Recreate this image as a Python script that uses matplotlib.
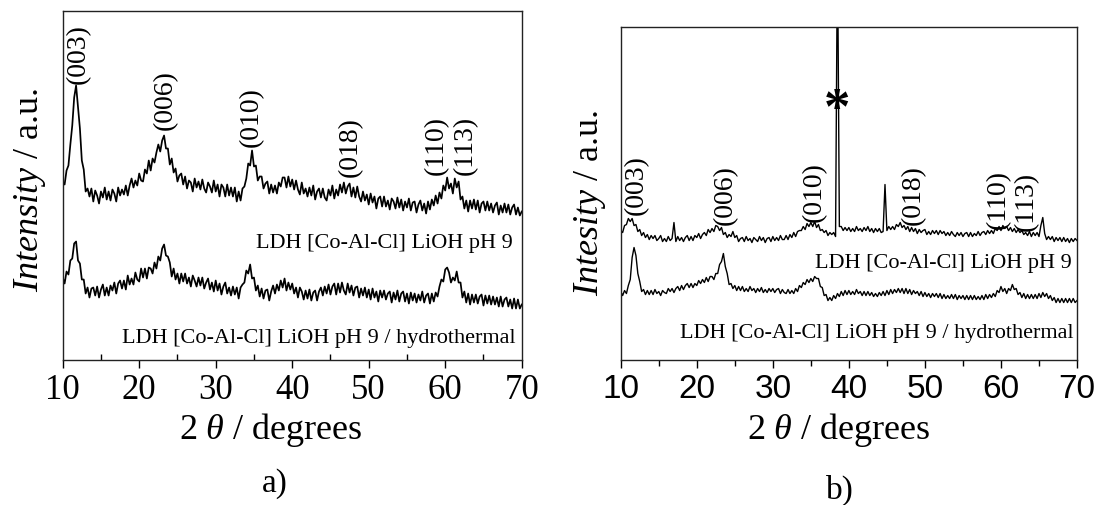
import numpy as np
import matplotlib
matplotlib.use("Agg")
import matplotlib.pyplot as plt
from matplotlib.ticker import MultipleLocator

plt.rcParams['font.family'] = ['Liberation Serif', 'DejaVu Serif']
plt.rcParams['mathtext.fontset'] = 'custom'
plt.rcParams['mathtext.rm'] = 'Liberation Serif'
plt.rcParams['mathtext.it'] = 'Liberation Serif:italic'

# 2-theta sampling (degrees), 0.25 deg step
two_theta = np.linspace(10, 70, 241)

# panel a) intensities (a.u.)
a_lioh = [
    177, 175, 189, 194, 215, 234, 262, 274,
    253, 231, 199, 190, 168, 171, 163, 171,
    158, 169, 164, 156, 168, 162, 172, 160,
    168, 159, 170, 166, 158, 172, 164, 170,
    165, 174, 164, 174, 181, 172, 179, 174,
    186, 179, 178, 190, 186, 199, 189, 201,
    197, 207, 215, 208, 219, 224, 211, 211,
    195, 201, 187, 191, 178, 184, 186, 175,
    183, 171, 179, 177, 168, 181, 172, 178,
    170, 180, 171, 167, 177, 173, 167, 179,
    168, 175, 163, 175, 172, 163, 175, 164,
    172, 163, 172, 158, 168, 159, 171, 173,
    181, 196, 194, 209, 193, 194, 179, 183,
    183, 171, 176, 178, 166, 175, 167, 174,
    166, 177, 173, 182, 182, 172, 183, 173,
    180, 170, 179, 170, 165, 177, 166, 171,
    163, 172, 164, 174, 160, 168, 171, 162,
    171, 162, 159, 170, 164, 174, 161, 170,
    164, 175, 167, 177, 166, 173, 176, 163,
    172, 162, 173, 163, 158, 168, 159, 165,
    155, 166, 157, 163, 151, 161, 163, 153,
    163, 153, 159, 150, 161, 158, 151, 162,
    152, 160, 149, 158, 152, 161, 149, 157,
    158, 147, 155, 159, 149, 156, 146, 158,
    150, 160, 154, 164, 156, 167, 161, 174,
    169, 182, 171, 176, 166, 181, 172, 178,
    160, 163, 151, 159, 148, 159, 151, 160,
    150, 159, 147, 156, 158, 149, 158, 149,
    156, 147, 154, 157, 145, 154, 147, 156,
    147, 155, 145, 152, 155, 145, 152, 144,
    148,
]
a_hydro = [
    82, 76, 88, 85, 99, 101, 116, 118,
    99, 96, 80, 80, 66, 72, 62, 71,
    72, 64, 73, 62, 70, 75, 64, 72,
    64, 74, 69, 77, 66, 76, 79, 71,
    79, 70, 84, 75, 81, 75, 87, 80,
    78, 91, 82, 91, 81, 92, 91, 86,
    97, 91, 103, 99, 111, 115, 104, 103,
    97, 83, 91, 80, 86, 76, 86, 78,
    86, 76, 82, 73, 84, 79, 73, 82,
    74, 82, 71, 77, 81, 70, 77, 68,
    79, 69, 76, 65, 73, 77, 66, 72,
    64, 73, 65, 72, 61, 72, 75, 77,
    89, 86, 95, 81, 82, 69, 74, 63,
    71, 61, 69, 70, 59, 68, 74, 66,
    75, 69, 79, 72, 81, 69, 77, 70,
    76, 66, 72, 62, 72, 68, 60, 69,
    61, 70, 59, 67, 69, 59, 68, 72,
    64, 73, 66, 75, 65, 73, 76, 65,
    76, 67, 77, 69, 65, 76, 67, 74,
    64, 72, 73, 62, 71, 64, 72, 62,
    70, 60, 71, 62, 68, 58, 69, 62,
    69, 60, 66, 68, 57, 67, 60, 69,
    58, 66, 68, 58, 66, 56, 67, 59,
    66, 57, 65, 59, 68, 57, 64, 66,
    56, 66, 58, 67, 63, 73, 80, 78,
    90, 92, 87, 77, 82, 79, 88, 77,
    77, 62, 68, 57, 66, 55, 65, 57,
    65, 56, 63, 65, 54, 64, 56, 64,
    55, 63, 55, 62, 53, 63, 53, 60,
    62, 53, 60, 51, 61, 51, 60, 51,
    55,
]

# panel b) intensities (a.u.); the 38.5 deg reflection runs off scale
b_lioh = [
    129, 127, 134, 135, 141, 138, 141, 134,
    135, 128, 130, 124, 127, 122, 125, 120,
    124, 121, 124, 119, 121, 124, 118, 121,
    118, 123, 119, 121, 137, 118, 123, 119,
    122, 118, 122, 124, 119, 123, 119, 124,
    122, 126, 121, 125, 127, 124, 130, 127,
    131, 128, 134, 133, 129, 132, 125, 127,
    122, 125, 123, 128, 122, 124, 118, 121,
    122, 118, 123, 119, 121, 117, 122, 120,
    118, 123, 119, 122, 117, 121, 122, 118,
    123, 119, 122, 119, 124, 120, 120, 124,
    120, 125, 122, 127, 123, 128, 129, 129,
    133, 130, 136, 133, 137, 133, 138, 132,
    135, 129, 130, 127, 129, 124, 127, 125,
    127, 123, 420, 133, 133, 129, 132, 129,
    132, 128, 131, 128, 133, 129, 131, 128,
    132, 129, 133, 128, 131, 127, 131, 128,
    131, 127, 128, 175, 129, 133, 130, 133,
    130, 135, 133, 137, 132, 134, 130, 133,
    128, 132, 128, 131, 126, 130, 127, 129,
    130, 125, 128, 125, 129, 126, 129, 125,
    129, 126, 128, 124, 127, 124, 128, 125,
    123, 127, 124, 127, 123, 126, 127, 123,
    127, 123, 126, 124, 128, 124, 127, 128,
    125, 129, 126, 129, 126, 131, 129, 133,
    129, 134, 131, 133, 129, 132, 128, 131,
    127, 130, 127, 129, 125, 127, 124, 128,
    123, 127, 124, 127, 123, 134, 142, 126,
    120, 123, 120, 123, 118, 122, 119, 122,
    118, 122, 118, 121, 117, 121, 118, 121,
    119,
]
b_hydro = [
    68, 64, 69, 66, 74, 80, 102, 112,
    104, 86, 78, 68, 70, 65, 69, 65,
    69, 65, 70, 66, 68, 64, 69, 67,
    66, 71, 68, 71, 67, 71, 73, 69,
    74, 70, 74, 76, 72, 76, 72, 76,
    74, 79, 76, 80, 77, 82, 78, 83,
    83, 80, 86, 86, 95, 98, 106, 93,
    86, 75, 76, 71, 74, 69, 73, 69,
    73, 68, 71, 68, 73, 69, 71, 67,
    71, 68, 72, 67, 70, 67, 71, 68,
    71, 67, 70, 71, 66, 70, 67, 66,
    70, 66, 69, 66, 71, 68, 74, 72,
    77, 75, 80, 77, 81, 78, 83, 81,
    81, 73, 72, 64, 65, 59, 62, 59,
    64, 61, 66, 63, 68, 64, 69, 65,
    69, 65, 68, 65, 70, 66, 68, 64,
    68, 64, 68, 64, 67, 63, 66, 63,
    67, 64, 68, 64, 69, 65, 70, 66,
    70, 67, 71, 67, 71, 66, 71, 66,
    70, 65, 69, 66, 68, 64, 68, 63,
    67, 63, 66, 62, 66, 63, 66, 62,
    66, 61, 65, 61, 64, 61, 65, 61,
    65, 60, 64, 61, 64, 60, 64, 60,
    64, 60, 64, 60, 63, 60, 64, 60,
    65, 61, 65, 62, 66, 63, 69, 67,
    73, 68, 71, 66, 71, 69, 75, 70,
    71, 65, 67, 62, 66, 61, 65, 61,
    65, 61, 65, 61, 66, 62, 67, 63,
    66, 61, 64, 59, 62, 57, 61, 57,
    61, 57, 61, 57, 61, 57, 61, 57,
    59,
]

hkl = ['(003)', '(006)', '(010)', '(018)', '(110)', '(113)']
# label positions: (2theta, intensity) for each hkl
a_hkl_x = [12.1, 23.4, 34.7, 47.6, 58.9, 62.6]
a_hkl_y = [306, 260, 243, 213, 215, 215]
b_hkl_x = [12.1, 23.7, 35.5, 48.5, 59.7, 63.4]
b_hkl_y = [175, 165, 168, 165, 161, 159]

name_lioh = 'LDH [Co-Al-Cl] LiOH pH 9'
name_hydro = 'LDH [Co-Al-Cl] LiOH pH 9 / hydrothermal'

fig = plt.figure(figsize=(11, 5.06), dpi=100)
ax_a = fig.add_axes([0.057, 0.2875, 0.4173, 0.6882])
ax_b = fig.add_axes([0.5643, 0.2875, 0.4148, 0.6565])


def style_axes(ax, top, tickfont, minor_dir):
    ax.set_xlim(10, 70)
    ax.set_ylim(0, top)
    ax.set_yticks([])
    ax.xaxis.set_major_locator(MultipleLocator(10))
    ax.xaxis.set_minor_locator(MultipleLocator(5))
    ax.tick_params(axis='x', which='major', direction='out', length=6,
                   width=1, pad=4)
    ax.tick_params(axis='x', which='minor', direction=minor_dir, length=4,
                   width=1)
    for s in ax.spines.values():
        s.set_linewidth(1.0)
        s.set_color('#222222')
    for lab in ax.get_xticklabels():
        lab.set_fontfamily(tickfont)
        lab.set_fontsize(25 if tickfont == 'Liberation Serif' else 24)


# a)
ax_a.plot(two_theta, a_lioh, color='black', lw=1.25)
ax_a.plot(two_theta, a_hydro, color='black', lw=1.25)
style_axes(ax_a, 348.2, 'Liberation Serif', 'in')
for t, x, y in zip(hkl, a_hkl_x, a_hkl_y):
    ax_a.text(x, y, t, rotation=90, ha='center', va='center', fontsize=20)
ax_a.text(68.86, 117, name_lioh, ha='right', va='center', fontsize=16)
ax_a.text(69.26, 22, name_hydro, ha='right', va='center', fontsize=16)
ax_a.set_ylabel(r'$\mathit{Intensity}$ / a.u.', fontsize=26)
ax_a.yaxis.set_label_coords(-0.071, 0.49)
ax_a.yaxis.label.set_va('center')
ax_a.set_xlabel(r'$\mathit{2\ \theta}$ / degrees', fontsize=26)
ax_a.xaxis.set_label_coords(0.454, -0.2)
ax_a.xaxis.label.set_va('center')

# b)
ax_b.plot(two_theta, b_lioh, color='black', lw=1.0)
ax_b.plot(two_theta, b_hydro, color='black', lw=1.0)
style_axes(ax_b, 332.2, 'Liberation Sans', 'out')
for t, x, y in zip(hkl, b_hkl_x, b_hkl_y):
    ax_b.text(x, y, t, rotation=90, ha='center', va='center', fontsize=20)
ax_b.text(38.4, 250, '*', ha='center', va='center', fontsize=38,
          fontweight='bold')
ax_b.text(69.34, 97, name_lioh, ha='right', va='center', fontsize=16)
ax_b.text(69.6, 27, name_hydro, ha='right', va='center', fontsize=16)
ax_b.set_ylabel(r'$\mathit{Intesity}$ / a.u.', fontsize=26)
ax_b.yaxis.set_label_coords(-0.067, 0.474)
ax_b.yaxis.label.set_va('center')
ax_b.set_xlabel(r'$\mathit{2\ \theta}$ / degrees', fontsize=26)
ax_b.xaxis.set_label_coords(0.478, -0.209)
ax_b.xaxis.label.set_va('center')

fig.text(0.25, 1 - 484 / 506, 'a)', ha='center', va='center', fontsize=24)
fig.text(0.7636, 1 - 490 / 506, 'b)', ha='center', va='center', fontsize=24)

fig.savefig('out.png', dpi=100)
